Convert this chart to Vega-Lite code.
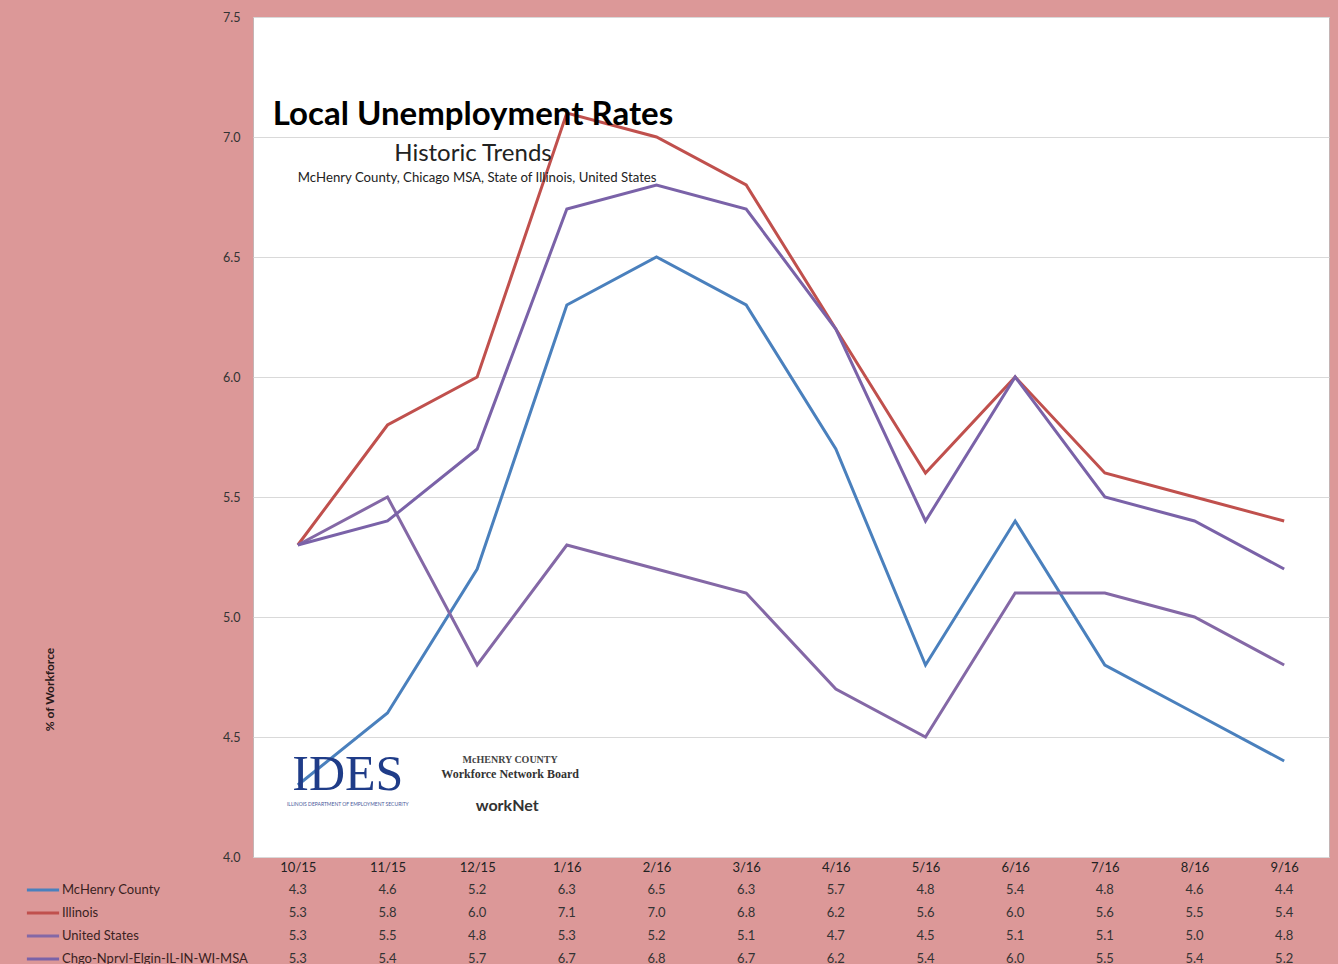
{
  "$schema": "https://vega.github.io/schema/vega-lite/v6.json",
  "background": "#dc9898",
  "autosize": {"type": "pad"},
  "padding": {"left": 30, "top": 10, "right": 10, "bottom": 0},
  "bounds": "flush",
  "spacing": 21,
  "datasets": {
    "rates": [
      {"month": "10/15", "series": "McHenry County", "rate": 4.3},
      {"month": "11/15", "series": "McHenry County", "rate": 4.6},
      {"month": "12/15", "series": "McHenry County", "rate": 5.2},
      {"month": "1/16", "series": "McHenry County", "rate": 6.3},
      {"month": "2/16", "series": "McHenry County", "rate": 6.5},
      {"month": "3/16", "series": "McHenry County", "rate": 6.3},
      {"month": "4/16", "series": "McHenry County", "rate": 5.7},
      {"month": "5/16", "series": "McHenry County", "rate": 4.8},
      {"month": "6/16", "series": "McHenry County", "rate": 5.4},
      {"month": "7/16", "series": "McHenry County", "rate": 4.8},
      {"month": "8/16", "series": "McHenry County", "rate": 4.6},
      {"month": "9/16", "series": "McHenry County", "rate": 4.4},
      {"month": "10/15", "series": "Illinois", "rate": 5.3},
      {"month": "11/15", "series": "Illinois", "rate": 5.8},
      {"month": "12/15", "series": "Illinois", "rate": 6.0},
      {"month": "1/16", "series": "Illinois", "rate": 7.1},
      {"month": "2/16", "series": "Illinois", "rate": 7.0},
      {"month": "3/16", "series": "Illinois", "rate": 6.8},
      {"month": "4/16", "series": "Illinois", "rate": 6.2},
      {"month": "5/16", "series": "Illinois", "rate": 5.6},
      {"month": "6/16", "series": "Illinois", "rate": 6.0},
      {"month": "7/16", "series": "Illinois", "rate": 5.6},
      {"month": "8/16", "series": "Illinois", "rate": 5.5},
      {"month": "9/16", "series": "Illinois", "rate": 5.4},
      {"month": "10/15", "series": "United States", "rate": 5.3},
      {"month": "11/15", "series": "United States", "rate": 5.5},
      {"month": "12/15", "series": "United States", "rate": 4.8},
      {"month": "1/16", "series": "United States", "rate": 5.3},
      {"month": "2/16", "series": "United States", "rate": 5.2},
      {"month": "3/16", "series": "United States", "rate": 5.1},
      {"month": "4/16", "series": "United States", "rate": 4.7},
      {"month": "5/16", "series": "United States", "rate": 4.5},
      {"month": "6/16", "series": "United States", "rate": 5.1},
      {"month": "7/16", "series": "United States", "rate": 5.1},
      {"month": "8/16", "series": "United States", "rate": 5.0},
      {"month": "9/16", "series": "United States", "rate": 4.8},
      {"month": "10/15", "series": "Chgo-Nprvl-Elgin-IL-IN-WI-MSA", "rate": 5.3},
      {"month": "11/15", "series": "Chgo-Nprvl-Elgin-IL-IN-WI-MSA", "rate": 5.4},
      {"month": "12/15", "series": "Chgo-Nprvl-Elgin-IL-IN-WI-MSA", "rate": 5.7},
      {"month": "1/16", "series": "Chgo-Nprvl-Elgin-IL-IN-WI-MSA", "rate": 6.7},
      {"month": "2/16", "series": "Chgo-Nprvl-Elgin-IL-IN-WI-MSA", "rate": 6.8},
      {"month": "3/16", "series": "Chgo-Nprvl-Elgin-IL-IN-WI-MSA", "rate": 6.7},
      {"month": "4/16", "series": "Chgo-Nprvl-Elgin-IL-IN-WI-MSA", "rate": 6.2},
      {"month": "5/16", "series": "Chgo-Nprvl-Elgin-IL-IN-WI-MSA", "rate": 5.4},
      {"month": "6/16", "series": "Chgo-Nprvl-Elgin-IL-IN-WI-MSA", "rate": 6.0},
      {"month": "7/16", "series": "Chgo-Nprvl-Elgin-IL-IN-WI-MSA", "rate": 5.5},
      {"month": "8/16", "series": "Chgo-Nprvl-Elgin-IL-IN-WI-MSA", "rate": 5.4},
      {"month": "9/16", "series": "Chgo-Nprvl-Elgin-IL-IN-WI-MSA", "rate": 5.2}
    ]
  },
  "vconcat": [
    {
      "width": 1076,
      "height": 840,
      "view": {"fill": "white", "stroke": "#c4b4b4"},
      "title": {
        "text": "Local Unemployment Rates",
        "subtitle": "Historic Trends",
        "anchor": "start",
        "frame": "group",
        "align": "center",
        "dx": 220,
        "dy": 159,
        "font": "Lato",
        "fontSize": 33,
        "fontWeight": "bold",
        "color": "#000000",
        "subtitleFont": "Lato",
        "subtitleFontSize": 24,
        "subtitleColor": "#222222",
        "subtitlePadding": 10
      },
      "layer": [
        {
          "data": {"name": "rates"},
          "mark": {"type": "line", "strokeWidth": 3},
          "encoding": {
            "x": {
              "field": "month",
              "type": "ordinal",
              "sort": ["10/15", "11/15", "12/15", "1/16", "2/16", "3/16", "4/16", "5/16", "6/16", "7/16", "8/16", "9/16"],
              "scale": {"type": "point", "padding": 0.5},
              "axis": {"title": null, "labelAngle": 0, "ticks": false, "domain": false, "grid": false, "labelFont": "Lato", "labelFontSize": 13, "labelColor": "#222222", "labelPadding": 4}
            },
            "y": {
              "field": "rate",
              "type": "quantitative",
              "scale": {"domain": [4, 7.5], "nice": false, "zero": false},
              "axis": {
                "values": [4, 4.5, 5, 5.5, 6, 6.5, 7, 7.5],
                "format": ".1f",
                "ticks": false,
                "domain": false,
                "gridColor": "#d9d9d9",
                "labelFont": "Lato",
                "labelFontSize": 12.5,
                "labelColor": "#333333",
                "labelPadding": 13,
                "title": "% of Workforce",
                "titleFont": "Lato",
                "titleFontSize": 12,
                "titleFontWeight": "bold",
                "titleColor": "#2a1a1a",
                "titleX": -197,
                "titleY": 672,
                "titleAngle": -90
              }
            },
            "color": {
              "field": "series",
              "type": "nominal",
              "scale": {
                "domain": ["McHenry County", "Illinois", "United States", "Chgo-Nprvl-Elgin-IL-IN-WI-MSA"],
                "range": ["#4a80bd", "#c0504d", "#8468a6", "#7a62a8"]
              },
              "legend": {
                "orient": "none",
                "legendX": -223,
                "legendY": 860,
                "title": null,
                "direction": "vertical",
                "symbolType": "M-1.4,0L1.4,0",
                "symbolSize": 529,
                "symbolStrokeWidth": 3,
                "labelFont": "Lato",
                "labelFontSize": 13,
                "labelColor": "#3a1f1f",
                "labelOffset": 6,
                "labelLimit": 0,
                "rowPadding": 3
              }
            }
          }
        },
        {
          "data": {"values": [{"note": "McHenry County, Chicago MSA, State of Illinois, United States"}]},
          "mark": {"type": "text", "font": "Lato", "fontSize": 13.2, "color": "#222222", "baseline": "middle"},
          "encoding": {
            "x": {"datum": "12/15"},
            "y": {"datum": 6.83},
            "text": {"field": "note"}
          }
        },
        {
          "data": {"values": [{"logo": "IDES"}]},
          "mark": {"type": "text", "font": "Liberation Serif", "fontSize": 50, "color": "#1f3c88", "xOffset": 50, "baseline": "middle"},
          "encoding": {
            "x": {"datum": "10/15"},
            "y": {"datum": 4.34},
            "text": {"field": "logo"}
          }
        },
        {
          "data": {"values": [{"logo": "ILLINOIS DEPARTMENT OF EMPLOYMENT SECURITY"}]},
          "mark": {"type": "text", "font": "Lato", "fontSize": 5, "color": "#4a5a9a", "xOffset": 50, "baseline": "middle"},
          "encoding": {
            "x": {"datum": "10/15"},
            "y": {"datum": 4.22},
            "text": {"field": "logo"}
          }
        },
        {
          "data": {"values": [{"logo": "McHENRY COUNTY"}]},
          "mark": {"type": "text", "font": "Liberation Serif", "fontSize": 10, "fontWeight": "bold", "color": "#444444", "xOffset": 33, "baseline": "middle"},
          "encoding": {
            "x": {"datum": "12/15"},
            "y": {"datum": 4.404},
            "text": {"field": "logo"}
          }
        },
        {
          "data": {"values": [{"logo": "Workforce Network Board"}]},
          "mark": {"type": "text", "font": "Liberation Serif", "fontSize": 12, "fontWeight": "bold", "color": "#333333", "xOffset": 33, "baseline": "middle"},
          "encoding": {
            "x": {"datum": "12/15"},
            "y": {"datum": 4.346},
            "text": {"field": "logo"}
          }
        },
        {
          "data": {"values": [{"logo": "workNet"}]},
          "mark": {"type": "text", "font": "Lato", "fontSize": 16, "fontWeight": "bold", "color": "#333333", "xOffset": 30, "baseline": "middle"},
          "encoding": {
            "x": {"datum": "12/15"},
            "y": {"datum": 4.2125},
            "text": {"field": "logo"}
          }
        }
      ]
    },
    {
      "width": 1076,
      "height": 92,
      "view": {"stroke": null, "fill": null},
      "data": {"name": "rates"},
      "mark": {"type": "text", "font": "Lato", "fontSize": 13, "color": "#333333"},
      "encoding": {
        "x": {
          "field": "month",
          "type": "ordinal",
          "sort": ["10/15", "11/15", "12/15", "1/16", "2/16", "3/16", "4/16", "5/16", "6/16", "7/16", "8/16", "9/16"],
          "scale": {"type": "point", "padding": 0.5},
          "axis": null
        },
        "y": {
          "field": "series",
          "type": "nominal",
          "sort": ["McHenry County", "Illinois", "United States", "Chgo-Nprvl-Elgin-IL-IN-WI-MSA"],
          "scale": {"type": "point", "padding": 0.5},
          "axis": null
        },
        "text": {"field": "rate", "type": "quantitative", "format": ".1f"}
      }
    }
  ],
  "resolve": {"scale": {"x": "independent", "y": "independent"}},
  "config": {
    "font": "Lato"
  }
}
